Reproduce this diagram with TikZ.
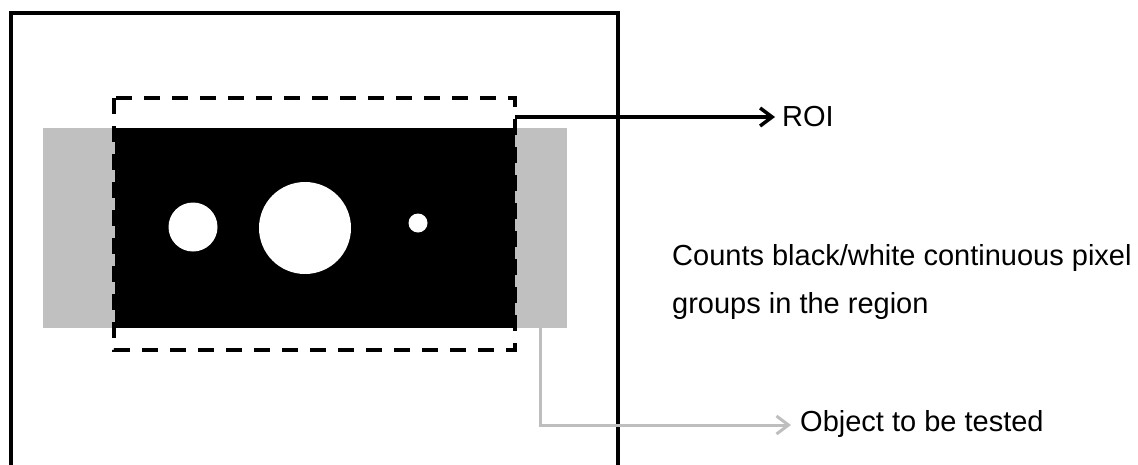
\documentclass[tikz,border=0pt]{standalone}
\usepackage{fontspec}
\setmainfont{Liberation Sans}
\usetikzlibrary{arrows.meta}
\definecolor{objgrey}{RGB}{192,192,192}
\definecolor{arrgrey}{RGB}{190,190,190}
\tikzset{
  px/.style={x=1pt,y=-1pt},
  framestyle/.style={draw=black,line width=3.5pt},
  roibox/.style={draw=black,line width=3.5pt,dash pattern=on 16pt off 12pt},
  hole/.style={circle,fill=white,inner sep=0pt,draw=none},
  lbl/.style={font=\fontsize{29}{48}\selectfont,inner sep=0pt,anchor=base west},
  blackarrow/.style={draw=black,line width=3.5pt,-{Straight Barb[length=12pt,width=18pt,line width=3.5pt]}},
  greyarrow/.style={draw=arrgrey,line width=3pt,-{Straight Barb[length=12pt,width=18pt,line width=3pt]}},
}
\begin{document}
\begin{tikzpicture}[px]
\useasboundingbox (0,0) rectangle (1138,464);
\fill[white] (0,0) rectangle (1138,464);
% outer frame
\draw[framestyle] (11,470) -- (11,13) -- (618,13) -- (618,470);
% object under test
\fill[objgrey] (43,128) rectangle (567,328);
\fill[black] (115,128) rectangle (515,328);
\node[hole,minimum size=49pt] (c1) at (193,227) {};
\node[hole,minimum size=92pt] (c2) at (305,228) {};
\node[hole,minimum size=19pt] (c3) at (418,223) {};
% ROI
\draw[roibox] (114,98) rectangle (515,350);
\coordinate (roiout) at (515,117);
\coordinate (objout) at (540,328);
% labels
\node[lbl] (roi) at (782,126) {ROI};
\node[lbl] (cnt1) at (672,265) {Counts black/white continuous pixel};
\node[lbl] (cnt2) at (672,313) {groups in the region};
\node[lbl] (obj) at (800,431) {Object to be tested};
% connectors
\draw[blackarrow] (roiout) -- ([xshift=-7pt]roi.west |- roiout);
\draw[greyarrow] (objout) |- ([xshift=-9pt]obj.west |- 0,425);
\end{tikzpicture}
\end{document}
